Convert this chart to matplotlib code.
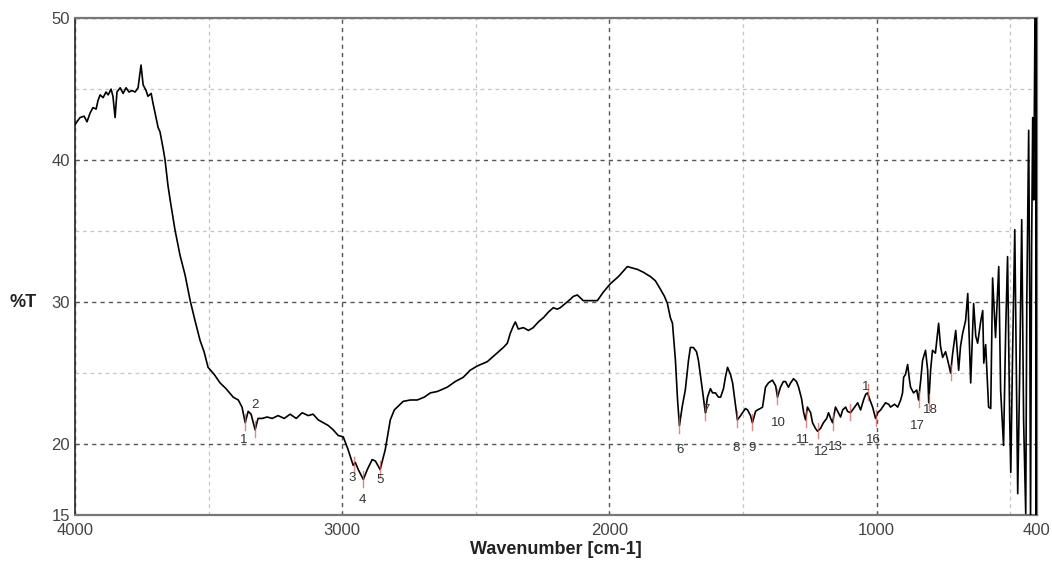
import numpy as np
import matplotlib.pyplot as plt
from matplotlib.ticker import FixedLocator

plt.rcParams['font.family'] = ['Liberation Sans', 'DejaVu Sans']

# spectrum, wavenumber [cm-1] and transmittance [%]
wavenumber = [
    4000, 3989, 3981, 3966, 3955, 3944, 3933, 3921, 3914, 3906, 3895, 3884, 3876, 3865,
    3858, 3850, 3843, 3831, 3820, 3809, 3798, 3787, 3775, 3764, 3753, 3745, 3734, 3727,
    3715, 3708, 3697, 3689, 3682, 3670, 3663, 3652, 3644, 3633, 3626, 3607, 3588, 3569,
    3551, 3532, 3517, 3502, 3479, 3457, 3435, 3408, 3389, 3375, 3363, 3352, 3341, 3326,
    3315, 3300, 3281, 3262, 3240, 3217, 3195, 3172, 3150, 3127, 3109, 3090, 3071, 3052,
    3034, 3015, 2996, 2978, 2959, 2951, 2940, 2921, 2906, 2888, 2876, 2858, 2839, 2820,
    2805, 2794, 2772, 2745, 2719, 2693, 2670, 2644, 2607, 2577, 2547, 2521, 2494, 2457,
    2427, 2397, 2382, 2371, 2360, 2352, 2341, 2322, 2303, 2285, 2266, 2247, 2228, 2210,
    2195, 2184, 2165, 2146, 2135, 2120, 2098, 2071, 2045, 2023, 1996, 1966, 1933, 1914,
    1895, 1873, 1847, 1828, 1809, 1794, 1783, 1772, 1764, 1753, 1745, 1738, 1727, 1716,
    1704, 1697, 1686, 1674, 1667, 1659, 1652, 1641, 1633, 1622, 1614, 1603, 1592, 1584,
    1573, 1566, 1558, 1547, 1539, 1528, 1521, 1509, 1502, 1491, 1483, 1472, 1465, 1453,
    1446, 1435, 1427, 1416, 1405, 1390, 1378, 1371, 1360, 1349, 1341, 1330, 1322, 1311,
    1300, 1292, 1281, 1273, 1266, 1259, 1247, 1240, 1229, 1221, 1210, 1199, 1187, 1180,
    1172, 1165, 1154, 1146, 1135, 1127, 1116, 1109, 1098, 1086, 1071, 1060, 1049, 1041,
    1034, 1023, 1015, 1004, 996, 985, 974, 967, 955, 948, 933, 921, 910, 903,
    899, 892, 884, 877, 873, 862, 850, 843, 835, 828, 817, 809, 805, 798,
    791, 780, 768, 761, 753, 742, 734, 723, 716, 704, 693, 686, 678, 667,
    659, 648, 637, 629, 622, 610, 603, 599, 592, 581, 573, 566, 555, 543,
    536, 525, 517, 510, 502, 498, 491, 483, 476, 472, 465, 457, 450, 442,
    438, 431, 427, 424, 420, 416, 412, 408, 405, 403, 400,
]
transmittance = [
    42.5, 42.8, 43.0, 43.1, 42.7, 43.3, 43.7, 43.6, 44.2, 44.6, 44.4, 44.8, 44.6, 45.0,
    44.5, 43.0, 44.8, 45.1, 44.7, 45.1, 44.8, 44.9, 44.8, 45.1, 46.7, 45.3, 44.9, 44.5,
    44.7, 44.0, 43.0, 42.3, 42.0, 40.8, 40.0, 38.2, 37.2, 35.9, 35.1, 33.3, 31.9, 30.1,
    28.7, 27.3, 26.5, 25.4, 24.9, 24.3, 23.9, 23.3, 23.1, 22.6, 21.5, 22.3, 22.1, 21.0,
    21.8, 21.8, 21.9, 21.8, 22.0, 21.8, 22.1, 21.8, 22.2, 22.0, 22.1, 21.7, 21.5, 21.3,
    21.0, 20.6, 20.5, 19.6, 18.5, 18.7, 18.2, 17.5, 18.2, 18.9, 18.8, 18.2, 19.6, 21.7,
    22.4, 22.6, 23.0, 23.1, 23.1, 23.3, 23.6, 23.7, 24.0, 24.4, 24.7, 25.2, 25.5, 25.8,
    26.3, 26.8, 27.1, 27.8, 28.3, 28.6, 28.1, 28.2, 28.0, 28.2, 28.6, 28.9, 29.3, 29.6,
    29.5, 29.6, 29.9, 30.2, 30.4, 30.5, 30.1, 30.1, 30.1, 30.7, 31.3, 31.8, 32.5, 32.4,
    32.3, 32.1, 31.8, 31.5, 30.9, 30.4, 29.9, 28.9, 28.5, 25.9, 23.1, 21.3, 22.7, 23.8,
    25.9, 26.8, 26.8, 26.5, 25.9, 24.8, 23.8, 22.2, 23.3, 23.9, 23.6, 23.6, 23.3, 23.3,
    23.9, 24.7, 25.4, 24.9, 24.3, 22.7, 21.7, 22.0, 22.2, 22.5, 22.4, 22.0, 21.5, 22.3,
    22.4, 22.5, 22.6, 24.0, 24.3, 24.5, 24.1, 23.3, 24.0, 24.4, 24.4, 24.0, 24.3, 24.6,
    24.4, 24.0, 23.2, 22.2, 21.7, 22.6, 22.2, 21.5, 21.1, 20.9, 21.1, 21.5, 21.8, 22.2,
    21.8, 21.5, 22.6, 22.3, 21.9, 22.4, 22.6, 22.3, 22.2, 22.5, 22.9, 22.4, 23.1, 23.5,
    23.6, 23.0, 22.6, 21.8, 22.2, 22.4, 22.7, 22.9, 22.8, 22.6, 22.8, 22.6, 23.1, 23.6,
    24.7, 24.9, 25.6, 24.5, 24.0, 23.6, 23.8, 23.1, 24.5, 25.9, 26.6, 25.2, 22.9, 25.2,
    26.6, 26.4, 28.5, 26.9, 26.1, 26.5, 25.9, 25.0, 26.3, 28.0, 25.2, 26.9, 27.8, 28.7,
    30.6, 24.3, 29.9, 27.6, 27.1, 28.7, 29.4, 25.7, 27.0, 22.6, 22.5, 31.7, 27.5, 32.5,
    23.8, 19.9, 28.0, 33.2, 21.7, 18.0, 26.6, 35.1, 23.1, 16.5, 24.5, 35.8, 21.7, 15.1,
    30.1, 42.1, 30.1, 14.5, 33.7, 43.0, 37.2, 48.5, 52.0, 13.0, 52.0,
]

# picked peaks: position, transmittance at the dip, label and label position
peak_wn = [3363, 3326, 2955, 2921, 2858, 1738, 1641, 1521, 1465, 1371, 1266, 1221,
           1165, 1098, 1034, 1004, 843, 805, 723]
peak_t = [21.5, 21.0, 18.5, 17.5, 18.2, 21.3, 22.2, 21.7, 21.5, 23.3, 21.7, 20.9,
          21.5, 22.2, 23.6, 21.8, 23.1, 22.9, 25.0]
peak_labels = ['1', '2', '3', '4', '5', '6', '7', '8', '9', '10', '11', '12',
               '13', '', '1', '16', '17', '18', '']
label_wn = [3367, 3326, 2963, 2925, 2858, 1734, 1637, 1525, 1465, 1367, 1275, 1205,
            1154, 1098, 1040, 1011, 847, 798, 723]
label_t = [20.3, 22.75, 17.6, 16.05, 17.45, 19.6, 22.4, 19.7, 19.7, 21.5, 20.3, 19.4,
           19.8, 21.0, 24.0, 20.3, 21.3, 22.4, 24.0]

fig, ax = plt.subplots(figsize=(10.52, 5.69), dpi=100)
fig.subplots_adjust(left=0.0713, right=0.9857, bottom=0.095, top=0.968)

ax.plot(wavenumber, transmittance, color="black", lw=1.2, zorder=3)

for w, t in zip(peak_wn, peak_t):
    ax.plot([w, w], [t - 0.5, t + 0.6], color="#d96060", lw=1.0, alpha=0.75, zorder=4)
for w, t, s in zip(label_wn, label_t, peak_labels):
    ax.text(w, t, s, fontsize=9.5, color="#333333", ha="center", va="center", zorder=5)

ax.set_xlim(4000, 400)
ax.set_ylim(15, 50)
ax.set_xticks([4000, 3000, 2000, 1000, 400])
ax.set_yticks([15, 20, 30, 40, 50])
ax.xaxis.set_minor_locator(FixedLocator([3500, 2500, 1500, 500]))
ax.yaxis.set_minor_locator(FixedLocator([25, 35, 45]))
ax.grid(which="major", color="#555555", ls=(0, (3, 3)), lw=1.0)
ax.grid(which="minor", color="#c4c4c4", ls=(0, (3, 3)), lw=0.9)
ax.tick_params(which="both", direction="in", length=3, labelsize=12,
               labelcolor="#444444", color="#555555")
ax.tick_params(which="minor", length=0)
ax.tick_params(axis="x", pad=6)

for side in ["top", "bottom", "right"]:
    ax.spines[side].set_color("#777777")
    ax.spines[side].set_linewidth(1.6)
ax.spines["left"].set_color("#333333")
ax.spines["left"].set_linewidth(1.3)

ax.set_xlabel("Wavenumber [cm-1]", fontsize=13, fontweight="bold", color="#222222", labelpad=2)
fig.text(0.009, 0.469, "%T", fontsize=13, fontweight="bold", color="#222222", ha="left", va="center")

plt.savefig("out.png")
